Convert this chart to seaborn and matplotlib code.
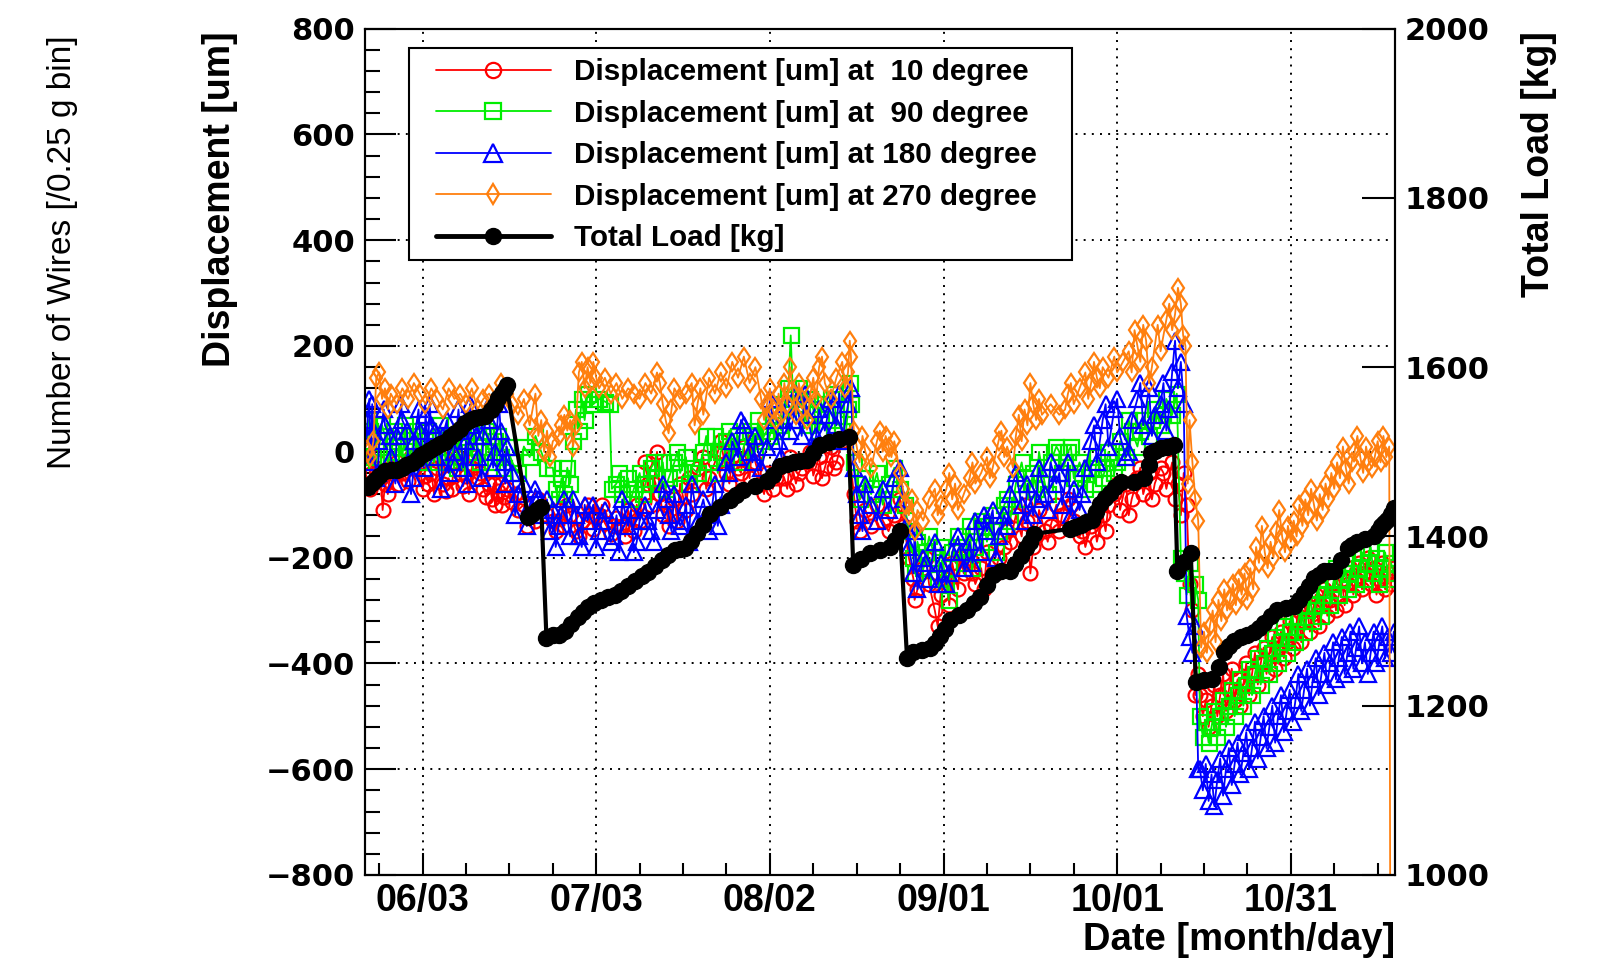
import numpy as np
import pandas as pd
import matplotlib
matplotlib.use("Agg")
import matplotlib.pyplot as plt
import matplotlib.dates as mdates
from matplotlib.ticker import FixedLocator, MultipleLocator, NullLocator
from matplotlib.lines import Line2D
from matplotlib.patches import Rectangle
import seaborn as sns

sns.set_style("white")
plt.rcParams["font.family"] = ["Liberation Sans", "DejaVu Sans"]
plt.rcParams["axes.unicode_minus"] = True
plt.rcParams["text.color"] = "black"
plt.rcParams["axes.labelcolor"] = "black"
plt.rcParams["xtick.color"] = "black"
plt.rcParams["ytick.color"] = "black"

# ---------------------------------------------------------------- data
# time is given as days since 06/03
START = pd.Timestamp("2015-06-03")

# displacement [um] at 10 degree
disp_10 = [
    (-9.5, -20), (-9.2, 10), (-8.8, -40), (-8.0, -30), (-7.2, -50), (-6.9, -110), (-6.5, -60),
    (-5.5, -30), (-4.5, -20), (-3.5, -40), (-2.5, -55), (-1.5, -30), (-0.5, -20), (0.5, -45),
    (1.0, -60), (1.5, -40), (2.5, -30), (3.5, -60), (4.0, -75), (4.5, -50), (5.5, -20), (6.5, -40),
    (7.0, -65), (7.5, -45), (8.5, -30), (9.5, -50), (10.5, -70), (11.0, -85), (11.5, -60),
    (12.0, -90), (12.5, -100), (13.0, -75), (13.5, -60), (14.0, -85), (14.5, -70),
    (15.5, -95), (16.5, -110), (17.5, -100), (18.5, -115), (19.5, -130), (20.5, -105), (21.5, -120),
    (22.5, -130), (23.5, -110), (24.5, -140), (25.5, -120), (26.5, -150), (27.5, -130), (28.5, -100),
    (29.5, -145), (30.5, -120), (31.5, -135), (32.5, -155), (33.5, -125), (34.5, -140), (35.5, -110),
    (36.5, -150), (37.5, -130), (38.5, -20), (39.0, -60), (39.5, -100), (40.5, 0), (41.0, -80),
    (41.5, -120), (42.5, -140), (43.5, -90), (44.5, -60), (45.5, -110), (46.5, -80),
    (47.5, -30), (48.5, -10), (49.5, -50), (50.5, -20), (51.5, 20), (52.5, -40), (53.5, -10),
    (54.5, -30), (55.5, 10), (56.5, -50), (57.5, -20), (58.5, -60), (59.5, -40), (60.5, -70),
    (61.5, -30), (62.5, -50), (63.5, -10), (64.5, -60), (65.5, -30), (66.5, -20), (67.5, -45),
    (68.5, -10), (69.5, -30), (70.5, 10), (71.5, -20), (72.5, 20), (73.5, 30),
    (74.5, -80), (75.0, -130), (75.5, -150), (76.5, -110), (77.5, -140), (78.5, -100), (79.5, -130),
    (80.5, -150), (81.5, -120), (82.5, -90), (83.2, -140),
    (84.0, -200), (84.8, -240), (85.5, -260), (86.5, -220), (87.5, -250), (88.5, -300), (89.0, -330),
    (89.5, -270), (90.5, -240), (91.5, -210), (92.5, -260), (93.5, -230), (94.5, -200), (95.5, -250),
    (96.5, -220), (97.5, -190), (98.5, -230), (99.5, -200), (100.5, -180), (101.5, -170),
    (102.5, -120), (103.5, -160), (104.5, -130), (105.0, -230), (105.5, -180), (106.5, -110),
    (107.5, -150), (108.5, -140), (109.5, -100), (110.5, -120), (111.5, -90), (112.5, -130),
    (113.5, -160), (114.5, -180), (115.5, -140), (116.5, -170), (117.5, -120), (118.5, -100),
    (119.5, -80), (120.5, -110), (121.5, -60), (122.5, -90), (123.5, -50), (124.5, -80),
    (125.5, -40), (126.5, -60), (127.5, -30), (128.5, -70), (129.5, -20), (130.0, -90),
    (130.5, -60), (131.0, -120), (131.5, -40), (132.0, -100), (132.5, -250), (133.0, -300),
    (133.5, -460), (134.0, -420),
    (134.3, -460), (134.8, -500), (135.3, -470), (135.8, -520), (136.3, -480), (136.8, -440),
    (137.3, -500), (137.8, -460), (138.3, -420), (138.8, -490), (139.3, -450), (139.8, -410),
    (140.3, -470), (140.8, -430), (141.3, -480), (141.8, -440), (142.3, -400), (142.8, -460),
    (143.3, -420), (143.8, -380), (144.3, -440), (144.8, -400), (145.3, -370), (145.8, -420),
    (146.3, -380), (146.8, -350), (147.3, -410), (147.8, -370), (148.3, -340), (148.8, -390),
    (149.3, -360), (149.8, -320), (150.3, -370), (150.8, -340), (151.3, -300), (151.8, -360),
    (152.3, -320), (152.8, -290), (153.3, -340), (153.8, -300), (154.3, -270), (154.8, -330),
    (155.3, -290), (155.8, -260), (156.3, -310), (156.8, -280), (157.3, -250), (157.8, -300),
    (158.3, -270), (158.8, -240), (159.3, -290), (159.8, -250), (160.3, -220), (160.8, -270),
    (161.3, -240), (161.8, -210), (162.3, -260), (162.8, -230), (163.3, -200), (163.8, -250),
    (164.3, -220), (164.8, -270), (165.3, -240), (165.8, -210), (166.3, -260), (166.8, -230),
    (167.3, -250), (167.8, -220),
]
# additional readings taken between the ones above
disp_10_more = [
    (-9.0, -70), (-7.7, -20), (-6.0, -80), (-4.0, -60), (-2.0, -10), (0.0, -70), (2.0, -80),
    (3.0, -10), (5.0, -70), (6.0, -10), (8.0, -80), (9.0, -10), (10.0, -40), (12.3, -60),
    (13.8, -100),
    (16.0, -80), (18.0, -140), (20.0, -90), (23.0, -150), (25.0, -100), (27.0, -160),
    (29.0, -120), (31.0, -100), (33.0, -140), (35.0, -160), (37.0, -100), (40.0, -60),
    (42.0, -100), (44.0, -130), (46.0, -50),
    (49.0, -70), (51.0, 0), (53.0, -60), (55.0, -40), (57.0, 20), (59.0, -80), (61.0, -50),
    (63.0, -70), (65.0, -40), (67.0, 0), (69.0, -50), (71.0, -30),
    (85.0, -280), (87.0, -200), (91.0, -290), (93.0, -200), (95.0, -230), (97.0, -260),
    (99.0, -230), (101.0, -150),
    (104.0, -100), (106.0, -160), (108.0, -170), (110.0, -150), (112.0, -100), (114.0, -150),
    (116.0, -130), (118.0, -150), (120.0, -60), (122.0, -120), (124.0, -30), (126.0, -90),
    (128.0, -40),
]

# displacement [um] at 90 degree
disp_90 = [
    (-9.5, 20), (-9.0, 40), (-8.5, -10), (-7.5, 10), (-6.5, 30), (-5.5, 0), (-4.5, 20), (-3.5, -10),
    (-2.5, 10), (-1.5, 30), (-0.5, 0), (0.5, 20), (1.5, -10), (2.5, 10), (3.5, 30), (4.5, 0),
    (5.5, -20), (6.5, 10), (7.5, 20), (8.5, -10), (9.5, 10), (10.5, 30), (11.5, 0), (12.5, 20),
    (13.5, -10), (14.5, 10),
    (15.5, -20), (16.5, -40), (17.5, 10), (18.5, -10), (19.5, 30), (20.5, 0), (21.5, -30),
    (22.5, -30), (23.0, -70), (23.5, -90), (24.0, -50), (24.5, -80), (25.0, -30), (25.5, -60),
    (26.0, 20), (26.5, 80), (27.0, 40), (27.5, 100), (28.0, 60), (28.5, 110), (29.5, 90),
    (30.5, 100), (31.5, 95), (32.3, 90), (32.7, -70),
    (33.5, -60), (34.5, -80), (35.5, -50), (36.5, -70), (37.5, -40), (38.5, -60), (39.5, -30),
    (40.5, -50), (41.5, -20), (42.5, -50), (43.5, -20), (44.5, -40), (45.5, -10), (46.5, -30),
    (47.5, -40), (48.5, 0), (49.5, -20), (50.5, 30), (51.5, 0), (52.5, 20), (53.5, -10),
    (54.5, 30), (55.5, 10), (56.5, 40), (57.5, 0), (58.5, 20),
    (59.5, 40), (60.5, 70), (61.5, 50), (62.5, 90), (63.2, 120), (63.6, 220), (64.0, 100),
    (64.5, 60), (65.5, 90), (66.5, 50), (67.5, 80), (68.5, 40), (69.5, 70), (70.5, 100),
    (71.5, 60), (72.5, 40), (73.0, 20), (73.5, 80), (73.8, 130), (74.1, 90),
    (74.5, -20), (75.0, -60), (75.5, -90), (76.5, -50), (77.5, -80), (78.5, -40), (79.5, -100),
    (80.5, -60), (81.5, -30), (82.5, -70), (83.3, -100),
    (84.0, -150), (84.8, -200), (85.5, -170), (86.5, -220), (87.5, -160), (88.5, -200),
    (89.5, -180), (90.5, -250), (90.9, -280), (91.5, -190), (92.5, -160), (93.5, -210),
    (94.5, -140), (95.5, -180), (96.5, -130), (97.5, -170), (98.5, -120), (99.5, -150),
    (100.5, -100), (101.5, -130),
    (102.5, -60), (103.5, -20), (104.5, -90), (105.5, -40), (106.5, 0), (107.5, -60), (108.5, -20),
    (109.5, 10), (110.5, -40), (111.5, 0), (112.5, -50), (113.5, -20), (114.5, -70), (115.5, -30),
    (116.5, -10), (117.5, -50), (118.5, 0), (119.5, -40), (120.5, 20), (121.5, -10), (122.5, 40),
    (123.5, 10), (124.5, 60), (125.5, 30), (126.5, 80), (127.5, 50), (128.5, 100), (129.5, 70),
    (130.3, 110),
    (131.0, -200), (131.5, -230), (132.0, -270), (132.5, -210), (133.5, -250), (134.0, -280),
    (134.3, -500), (134.8, -540), (135.3, -510), (135.8, -550), (136.3, -520), (136.8, -490),
    (137.3, -540), (137.8, -500), (138.3, -470), (138.8, -520), (139.3, -480), (139.8, -450),
    (140.3, -500), (140.8, -460), (141.3, -430), (141.8, -480), (142.3, -440), (142.8, -410),
    (143.3, -460), (143.8, -420), (144.3, -390), (144.8, -440), (145.3, -400), (145.8, -370),
    (146.3, -420), (146.8, -380), (147.3, -350), (147.8, -400), (148.3, -360), (148.8, -330),
    (149.3, -380), (149.8, -340), (150.3, -310), (150.8, -360), (151.3, -320), (151.8, -290),
    (152.3, -340), (152.8, -300), (153.3, -270), (153.8, -320), (154.3, -290), (154.8, -260),
    (155.3, -310), (155.8, -270), (156.3, -240), (156.8, -290), (157.3, -250), (157.8, -220),
    (158.3, -270), (158.8, -240), (159.3, -210), (159.8, -260), (160.3, -230), (160.8, -200),
    (161.3, -250), (161.8, -220), (162.3, -190), (162.8, -240), (163.3, -210), (163.8, -180),
    (164.3, -230), (164.8, -200), (165.3, -250), (165.8, -220), (166.3, -190), (166.8, -240),
    (167.3, -210), (167.8, -230),
]
disp_90_more = [
    (-9.3, 60), (-8.0, -20), (-7.0, 50), (-6.0, -20), (-5.0, 40), (-4.0, 10), (-3.0, 50),
    (-2.0, -20), (-1.0, 40), (0.0, -20), (1.0, 40), (2.0, -20), (3.0, 50), (4.0, -20), (5.0, 30),
    (6.0, -30), (7.0, 40), (8.0, 0), (9.0, 40), (10.0, -20), (11.0, 40), (12.0, -20), (13.0, 30),
    (14.0, -30),
    (34.0, -40), (36.0, -90), (38.0, -80), (40.0, -20), (42.0, -70), (44.0, 0), (46.0, -60),
    (49.0, 30), (51.0, -40), (53.0, 40), (55.0, -20), (57.0, 30), (58.0, 60), (60.0, 30),
    (62.0, 40), (65.0, 120), (67.0, 100), (69.0, 90), (71.0, 110),
    (85.0, -230), (87.0, -190), (89.0, -240), (91.0, -220), (93.0, -180), (95.0, -220),
    (97.0, -140), (99.0, -190), (101.0, -90),
    (104.0, -50), (106.0, -70), (108.0, -80), (110.0, 0), (112.0, 10), (114.0, -40),
    (116.0, -60), (118.0, -30), (120.0, -20), (122.0, 60), (124.0, 40), (126.0, 60),
    (128.0, 70),
]

# displacement [um] at 180 degree
disp_180 = [
    (-9.5, 60), (-9.2, 100), (-9.0, -20), (-8.5, 40), (-8.0, -50), (-7.5, 20), (-6.5, 50),
    (-5.5, -10), (-4.5, 30), (-3.5, 60), (-2.5, -20), (-2.0, -80), (-1.5, 20), (-0.5, 40),
    (0.5, 70), (1.0, 10), (1.5, 50), (2.5, -10), (3.5, 30), (4.5, -40), (5.5, 0), (6.5, 40),
    (7.0, -30), (7.5, 20), (8.5, 50), (9.5, -10), (10.5, 30), (11.5, 60), (12.5, 0), (13.5, 40),
    (14.0, -20), (14.5, 10),
    (15.5, -40), (16.5, -80), (17.5, -60), (18.5, -100), (19.5, -70), (20.5, -120), (21.5, -90),
    (22.5, -110), (23.5, -140), (24.5, -90), (25.5, -160), (26.5, -120), (27.5, -180), (28.5, -130),
    (29.5, -100), (30.5, -150), (31.5, -110), (32.5, -170), (33.5, -120), (34.5, -90), (35.5, -140),
    (36.5, -190), (37.5, -130), (38.5, -100), (39.5, -150), (40.5, -110), (41.5, -60), (42.5, -120),
    (43.5, -80), (44.5, -140), (45.5, -100), (46.5, -60),
    (47.5, -130), (48.5, -90), (49.5, -150), (50.5, -60), (51.5, -100), (52.5, -20), (53.5, 20),
    (54.5, -10), (55.5, 50), (56.5, 0), (57.5, 30), (58.5, -30),
    (59.5, 10), (60.5, 60), (61.5, 20), (62.5, 90), (63.5, 40), (64.5, 110), (65.5, 30), (66.5, 70),
    (67.5, 10), (68.5, 80), (69.5, 40), (70.5, 100), (71.5, 50), (72.5, 20), (73.5, 90), (74.0, 120),
    (74.5, -30), (75.0, -80), (75.5, -120), (76.0, -150), (76.5, -60), (77.5, -100), (78.5, -130),
    (79.5, -70), (80.5, -110), (81.5, -50), (82.5, -30), (83.0, -90), (83.5, -140),
    (84.0, -180), (84.8, -230), (85.5, -260), (86.5, -200), (87.5, -240), (88.5, -170),
    (89.5, -210), (90.5, -250), (91.5, -190), (92.5, -160), (93.5, -220), (94.5, -170),
    (95.5, -130), (96.5, -190), (97.5, -150), (98.5, -110), (99.5, -160), (100.5, -120),
    (101.5, -80),
    (102.5, -40), (103.5, -100), (104.5, -60), (105.5, -120), (106.5, -30), (107.5, -80),
    (108.5, -20), (109.5, -60), (110.5, -100), (111.5, -20), (112.5, -70), (113.5, -110),
    (114.5, -30), (115.5, 20), (116.5, -20), (117.5, 60), (118.5, 10), (119.5, 80), (120.5, 30),
    (121.5, -10), (122.5, 60), (123.5, 100), (124.5, 50), (125.5, 120), (126.5, 70), (127.5, 90),
    (128.5, 40), (129.0, 80), (129.5, 150), (130.0, 210), (130.5, 120), (131.0, 170), (131.5, 90),
    (132.0, -310), (132.5, -350), (133.0, -380), (133.5, -330), (134.0, -600),
    (134.3, -600), (134.8, -640), (135.3, -590), (135.8, -660), (136.3, -610), (136.8, -670),
    (137.3, -620), (137.8, -580), (138.3, -650), (138.8, -600), (139.3, -560), (139.8, -630),
    (140.3, -590), (140.8, -550), (141.3, -610), (141.8, -570), (142.3, -530), (142.8, -600),
    (143.3, -560), (143.8, -510), (144.3, -580), (144.8, -540), (145.3, -500), (145.8, -560),
    (146.3, -520), (146.8, -480), (147.3, -550), (147.8, -500), (148.3, -460), (148.8, -530),
    (149.3, -490), (149.8, -450), (150.3, -510), (150.8, -470), (151.3, -420), (151.8, -490),
    (152.3, -450), (152.8, -410), (153.3, -480), (153.8, -430), (154.3, -390), (154.8, -460),
    (155.3, -420), (155.8, -380), (156.3, -440), (156.8, -400), (157.3, -360), (157.8, -430),
    (158.3, -390), (158.8, -350), (159.3, -420), (159.8, -380), (160.3, -340), (160.8, -410),
    (161.3, -370), (161.8, -330), (162.3, -400), (162.8, -360), (163.3, -420), (163.8, -380),
    (164.3, -340), (164.8, -400), (165.3, -360), (165.8, -330), (166.3, -390), (166.8, -350),
    (167.3, -380), (167.8, -340),
]
disp_180_more = [
    (-9.7, 30), (-8.7, 90), (-7.7, -40), (-6.7, 80), (-5.7, 30), (-4.7, -60), (-3.7, 90),
    (-2.7, 40), (-1.7, -50), (-0.7, 80), (0.2, -30), (1.2, 90), (2.2, 40), (3.2, -70), (4.2, 60),
    (5.2, -20), (6.2, 80), (7.7, -60), (8.2, 90), (9.2, 30), (10.2, -50), (11.2, 80),
    (12.2, -30), (13.2, 90), (14.3, -60),
    (16.0, -120), (18.0, -140), (20.0, -90), (22.0, -150), (23.0, -180), (24.0, -120),
    (26.0, -90), (27.0, -160), (28.0, -100), (30.0, -180), (31.0, -130), (33.0, -160),
    (34.0, -190), (36.0, -110), (37.0, -170), (39.0, -130), (40.0, -170), (42.0, -90),
    (43.0, -150), (45.0, -130), (46.0, -170),
    (49.0, -120), (51.0, -140), (53.0, -40), (55.0, 60), (57.0, -20), (60.0, 100), (62.0, -10),
    (64.0, 60), (66.0, 110), (68.0, 30), (70.0, 70), (72.0, 110),
    (85.0, -150), (87.0, -210), (89.0, -250), (91.0, -230), (93.0, -190), (95.0, -210),
    (97.0, -120), (99.0, -200), (101.0, -140),
    (104.0, -130), (106.0, -90), (108.0, -110), (110.0, -40), (112.0, -120), (114.0, -80),
    (116.0, 50), (118.0, 90), (120.0, 100), (122.0, 0), (124.0, 130), (126.0, 30), (128.0, 130),
]

# displacement [um] at 270 degree
disp_270 = [
    (-9.5, 0), (-9.0, -10), (-8.5, 20), (-8.0, 140), (-7.5, 150), (-7.0, 100), (-6.5, 120),
    (-6.0, 80), (-5.5, 110), (-4.5, 90), (-3.5, 120), (-2.5, 100), (-1.5, 130), (-0.5, 110),
    (0.5, 90), (1.5, 120), (2.5, 100), (3.5, 80), (4.5, 120), (5.5, 100), (6.5, 110), (7.5, 90),
    (8.5, 120), (9.5, 80), (10.5, 100), (11.5, 110), (12.5, 90), (13.5, 130), (14.5, 110),
    (15.5, 90), (16.5, 70), (17.5, 100), (18.5, 50), (19.5, 110), (20.0, 30), (20.5, 60),
    (21.0, 0), (21.5, 40), (22.0, -10), (22.5, 20),
    (23.5, 30), (24.0, 50), (24.5, 70), (25.0, 40), (25.5, 60), (26.0, 10), (26.5, 50),
    (27.0, 150), (27.5, 170), (28.0, 120), (28.5, 160), (29.0, 130), (29.5, 170), (30.0, 140),
    (30.5, 120), (31.5, 140), (32.5, 110), (33.5, 130), (34.5, 100), (35.5, 120), (36.5, 110),
    (37.5, 100), (38.5, 130), (39.5, 110), (40.5, 150), (41.0, 130), (41.5, 90), (42.0, 60),
    (42.5, 35), (43.0, 80), (43.5, 120), (44.5, 100), (45.5, 110), (46.5, 130),
    (47.0, 50), (47.5, 90), (48.0, 120), (48.5, 70), (49.5, 140), (50.5, 110), (51.5, 150),
    (52.5, 120), (53.5, 170), (54.5, 140), (55.5, 180), (56.5, 130), (57.5, 160), (58.5, 100),
    (59.0, 60), (59.5, 90), (60.0, 120), (60.5, 80), (61.0, 60), (61.5, 110), (62.0, 70),
    (62.5, 130), (63.0, 90), (63.5, 160), (64.0, 110), (64.5, 70), (65.0, 130), (65.5, 100),
    (66.5, 60), (67.0, 110), (67.5, 140), (68.0, 100), (68.5, 160), (69.0, 180), (69.5, 130),
    (70.5, 100), (71.5, 140), (72.5, 170), (73.0, 120), (73.5, 150), (73.8, 210), (74.0, 180),
    (74.5, 40), (75.0, 10), (75.5, -20), (76.0, 30), (76.5, 0), (77.5, -30), (78.5, 20),
    (79.0, 40), (79.5, 0), (80.0, 30), (80.5, 10), (81.0, -10), (81.5, 20), (82.5, -40),
    (83.0, -70), (83.5, -100),
    (84.0, -120), (84.5, -90), (85.0, -150), (85.5, -110), (86.5, -130), (87.5, -90), (88.5, -70),
    (89.0, -120), (89.5, -100), (90.5, -70), (91.0, -40), (91.5, -90), (92.0, -60), (92.5, -110),
    (93.5, -80), (94.5, -50), (95.0, -20), (95.5, -60), (96.5, -40), (97.5, -10), (98.0, -50),
    (98.5, -30), (99.5, 20), (100.0, 40), (100.5, -10), (101.0, 10),
    (102.0, -30), (102.5, 30), (103.0, 70), (103.5, 20), (104.0, 80), (104.5, 50), (105.0, 130),
    (105.5, 90), (106.0, 60), (106.5, 100), (107.0, 70), (108.5, 90), (110.0, 70), (111.0, 80),
    (111.5, 110), (112.0, 130), (112.5, 90), (113.5, 120), (114.5, 150), (115.0, 100),
    (115.5, 130), (116.0, 170), (116.5, 140), (117.0, 120), (117.5, 160), (118.5, 140),
    (119.5, 180), (120.0, 150), (121.0, 170), (122.0, 190), (122.5, 150), (123.0, 230),
    (123.5, 200), (124.0, 170), (124.5, 240), (125.0, 210), (125.5, 130), (126.0, 160),
    (127.0, 240), (127.5, 190), (128.5, 250), (129.0, 280), (129.5, 230), (130.0, 260),
    (130.5, 310), (131.0, 280), (131.4, 220),
    (131.8, 200), (132.2, -60), (132.5, 60), (133.0, -20), (133.5, -90), (134.0, -130),
    (134.5, -370),
    (135.0, -340), (135.5, -380), (136.0, -330), (136.5, -300), (137.0, -360), (137.5, -280),
    (138.0, -320), (138.5, -260), (139.0, -300), (139.5, -280), (140.0, -250), (140.5, -290),
    (141.0, -240), (141.5, -270), (142.0, -230), (142.5, -280), (143.0, -220), (143.5, -260),
    (144.0, -180), (144.5, -210), (145.0, -140), (145.5, -190), (146.0, -220), (146.5, -170),
    (147.0, -200), (147.5, -150), (148.0, -110), (148.5, -160), (149.0, -190), (149.5, -140),
    (150.0, -170), (150.5, -130), (151.0, -160), (151.5, -100), (152.0, -140), (152.5, -90),
    (153.0, -120), (153.5, -70), (154.0, -100), (154.5, -130), (155.0, -80), (155.5, -110),
    (156.0, -60), (156.5, -90), (157.0, -40), (157.5, -70), (158.0, -20), (158.5, -50),
    (159.0, 10), (159.5, -30), (160.0, -60), (160.5, -20), (161.0, 0), (161.5, 30), (162.0, -10),
    (162.5, -40), (163.0, 10), (163.5, -20), (164.0, -30), (164.5, -10), (165.0, 20),
    (165.5, -20), (166.0, 30), (166.5, -10), (167.0, 10), (167.3, -1500),
]

# total load [kg]
total_load = [
    (-9.5, 1459), (-8.8, 1463), (-8.3, 1467), (-7.5, 1471), (-6.5, 1477), (-5.5, 1478),
    (-4.5, 1479), (-3.6, 1481), (-2.8, 1484), (-1.9, 1487), (-1.0, 1492), (-0.2, 1496),
    (0.4, 1499), (1.2, 1502), (2.1, 1506), (3.0, 1509), (3.8, 1512), (4.7, 1517), (5.6, 1522),
    (6.4, 1527), (7.3, 1534), (8.2, 1537), (9.0, 1540), (9.9, 1541), (10.8, 1542), (11.9, 1549),
    (12.5, 1555), (13.1, 1563), (13.7, 1569), (14.2, 1574), (14.5, 1579),
    (18.2, 1423), (18.9, 1426), (19.7, 1431), (20.5, 1435),
    (21.4, 1280), (22.5, 1283), (23.5, 1284), (24.6, 1288), (25.7, 1296), (26.9, 1305),
    (27.7, 1311), (28.6, 1317), (29.7, 1321), (30.9, 1325), (32.0, 1328), (33.2, 1331),
    (34.3, 1335), (35.5, 1341), (36.7, 1347), (37.9, 1353), (39.0, 1358), (40.2, 1365),
    (41.3, 1372), (42.4, 1378), (43.6, 1384), (44.4, 1385), (45.3, 1386), (46.4, 1395),
    (47.4, 1404), (48.5, 1414), (49.7, 1427), (51.4, 1435), (53.1, 1443), (54.2, 1449),
    (55.4, 1455), (57.4, 1460), (59.5, 1465), (60.6, 1473), (61.8, 1483), (62.9, 1486),
    (64.1, 1488), (65.2, 1489), (66.4, 1490), (67.5, 1499), (68.7, 1508), (70.3, 1512),
    (72.0, 1515), (73.6, 1518),
    (74.4, 1366), (75.8, 1373), (77.3, 1380), (79.0, 1384), (80.8, 1388), (81.6, 1396),
    (82.5, 1406),
    (83.7, 1256), (84.8, 1264), (86.2, 1266), (87.7, 1268), (88.5, 1274), (89.4, 1282),
    (90.3, 1291), (91.2, 1301), (92.6, 1307), (94.0, 1313), (95.2, 1321), (96.3, 1329),
    (97.5, 1343), (98.6, 1355), (99.9, 1359), (101.5, 1359), (102.4, 1368), (103.3, 1377),
    (104.2, 1386), (105.0, 1394), (105.6, 1403), (111.9, 1409), (112.8, 1411), (113.7, 1414),
    (114.7, 1417), (115.7, 1420), (116.4, 1429), (117.1, 1438), (117.9, 1445), (118.8, 1451),
    (119.7, 1458), (120.6, 1464), (122.9, 1464), (124.6, 1469), (125.5, 1484), (125.8, 1499),
    (126.6, 1501), (127.5, 1504), (128.6, 1506), (129.8, 1508),
    (130.4, 1359), (131.5, 1370), (132.7, 1381),
    (133.6, 1228), (135.0, 1230), (136.4, 1232), (137.6, 1246), (138.5, 1263), (139.3, 1270),
    (140.2, 1276), (141.4, 1281), (142.5, 1284), (143.7, 1287), (144.5, 1292), (145.4, 1298),
    (146.5, 1306), (147.7, 1313), (149.1, 1316), (150.6, 1318), (151.4, 1325), (152.3, 1333),
    (153.1, 1342), (154.0, 1351), (154.9, 1355), (155.8, 1359), (156.6, 1359), (157.5, 1359),
    (158.6, 1372), (159.8, 1386), (160.6, 1390), (161.5, 1394), (162.9, 1397), (164.4, 1401),
    (165.0, 1406), (165.6, 1412), (166.1, 1416), (166.7, 1420), (167.3, 1427), (167.9, 1434),
]

series_labels = [
    "Displacement [um] at  10 degree",
    "Displacement [um] at  90 degree",
    "Displacement [um] at 180 degree",
    "Displacement [um] at 270 degree",
]
load_label = "Total Load [kg]"

tick_days = [0, 30, 60, 90, 120, 150]
tick_labels = ["06/03", "07/03", "08/02", "09/01", "10/01", "10/31"]
disp_ticks = list(range(-800, 801, 200))
load_ticks = list(range(1000, 2001, 200))


def to_dates(days):
    return START + pd.to_timedelta(np.asarray(days, dtype=float), unit="D")


def frame(points):
    arr = np.asarray(points, dtype=float)
    arr = arr[np.argsort(arr[:, 0], kind="stable")]      # time order
    return pd.DataFrame({"date": to_dates(arr[:, 0]), "value": arr[:, 1]})


# ---------------------------------------------------------------- figure
W, H = 1599, 961
fig = plt.figure(figsize=(W / 100, H / 100), dpi=100)
ax_l, ax_r, ax_t, ax_b = 364.7, 1395.0, 28.6, 875.0
ax = fig.add_axes([ax_l / W, 1 - ax_b / H, (ax_r - ax_l) / W, (ax_b - ax_t) / H])

styles = [
    dict(color="#ff0000", marker="o", ms=10.0),
    dict(color="#00ee00", marker="s", ms=10.8),
    dict(color="#0000ff", marker="^", ms=11.2),
    dict(color="#ff7f0e", marker="d", ms=9.6),
]
all_disp = [disp_10 + disp_10_more, disp_90 + disp_90_more,
            disp_180 + disp_180_more, disp_270]

for pts, st in zip(all_disp, styles):
    df = frame(pts)
    sns.lineplot(data=df, x="date", y="value", ax=ax, estimator=None, sort=False,
                 legend=False, color=st["color"], linewidth=1.3,
                 marker=st["marker"], markersize=st["ms"],
                 markerfacecolor="none", markeredgecolor=st["color"],
                 markeredgewidth=1.6)

ax.set_ylim(-800, 800)
xmin, xmax = to_dates([-10.0, 168.0])
ax.set_xlim(xmin, xmax)

ax2 = ax.twinx()
dfl = frame(total_load)
sns.lineplot(data=dfl, x="date", y="value", ax=ax2, estimator=None, sort=False,
             legend=False, color="black", linewidth=3.0, marker="o", markersize=11.5,
             markerfacecolor="black", markeredgecolor="black", markeredgewidth=1.0)
ax2.set_ylim(1000, 2000)
ax2.set_xlim(xmin, xmax)

# ---------------------------------------------------------------- axes styling
tick_font = dict(family="DejaVu Sans", fontweight="bold", fontsize=22, color="black")
ax.set_yticks(disp_ticks, [str(v).replace("-", "\u2212") for v in disp_ticks], **tick_font)
ax.yaxis.set_minor_locator(MultipleLocator(40))
ax2.set_yticks(load_ticks, [str(v) for v in load_ticks], **tick_font)
ax2.yaxis.set_minor_locator(NullLocator())

ax.set_xticks(mdates.date2num(to_dates(tick_days)), tick_labels,
              family="Liberation Sans", fontweight="bold", fontsize=27, color="black")
minor_days = np.arange(-7.5, 168, 7.5)
ax.xaxis.set_minor_locator(FixedLocator(mdates.date2num(to_dates(minor_days))))

ax.tick_params(axis="y", which="major", direction="in", length=22, width=1.5, pad=7,
               left=True, right=False, colors="black")
ax.tick_params(axis="y", which="minor", direction="in", length=11, width=1.5,
               left=True, right=False)
ax.tick_params(axis="x", which="major", direction="in", length=16, width=1.5, pad=6,
               bottom=True, top=False, colors="black")
ax.tick_params(axis="x", which="minor", direction="in", length=9, width=1.5,
               bottom=True, top=False)
ax2.tick_params(axis="y", which="major", direction="in", length=24, width=1.5, pad=7,
                right=True, left=False, colors="black")

for a in (ax, ax2):
    a.set_xlabel("")
    a.set_ylabel("")
    for sp in a.spines.values():
        sp.set_visible(True)
        sp.set_color("black")
        sp.set_linewidth(1.5)

ax.grid(True, which="major", axis="both", color="black", linestyle=(0, (1, 3.2)),
        linewidth=1.4)
ax.set_axisbelow(True)
ax2.grid(False)

# ---------------------------------------------------------------- legend
aw, ah = ax_r - ax_l, ax_b - ax_t
box_x0, box_x1, box_y0, box_y1 = 409.0, 1072.0, 48.0, 260.0
ax2.add_patch(Rectangle(((box_x0 - ax_l) / aw, (ax_b - box_y1) / ah),
                        (box_x1 - box_x0) / aw, (box_y1 - box_y0) / ah,
                        transform=ax2.transAxes, facecolor="white", edgecolor="black",
                        linewidth=1.5, zorder=5, clip_on=False))
handles = [Line2D([], [], color=st["color"], lw=1.3, marker=st["marker"], ms=st["ms"] * 1.1,
                  mfc="none", mec=st["color"], mew=1.6) for st in styles]
handles.append(Line2D([], [], color="black", lw=3.5, marker="o", ms=11.5, mfc="black",
                      mec="black"))
leg = ax2.legend(handles, series_labels + [load_label], loc="upper left",
                 bbox_to_anchor=((435.5 - ax_l) / aw, (ax_b - 58.0) / ah),
                 frameon=False, borderpad=0, borderaxespad=0, handlelength=3.9,
                 handletextpad=0.78, labelspacing=0.46, numpoints=1,
                 prop=dict(family="Liberation Sans", weight="bold", size=21.3))
for t in leg.get_texts():
    t.set_color("black")
leg.set_zorder(6)

# ---------------------------------------------------------------- titles
fig.text(63 / W, 1 - 252 / H, "Number of Wires [/0.25 g bin]", rotation=90,
         ha="center", va="center", family="Liberation Sans", fontsize=24, color="black")
fig.text(220 / W, 1 - 31 / H, "Displacement [um]", rotation=90, ha="center", va="top",
         family="Liberation Sans", fontweight="bold", fontsize=27, color="black")
fig.text(1539 / W, 1 - 31 / H, "Total Load [kg]", rotation=90, ha="center", va="top",
         family="Liberation Sans", fontweight="bold", fontsize=27, color="black")
fig.text(ax_r / W, 1 - 940 / H, "Date [month/day]", ha="right", va="center",
         family="Liberation Sans", fontweight="bold", fontsize=27.5, color="black")

fig.savefig("out.png", dpi=100, facecolor="white")
